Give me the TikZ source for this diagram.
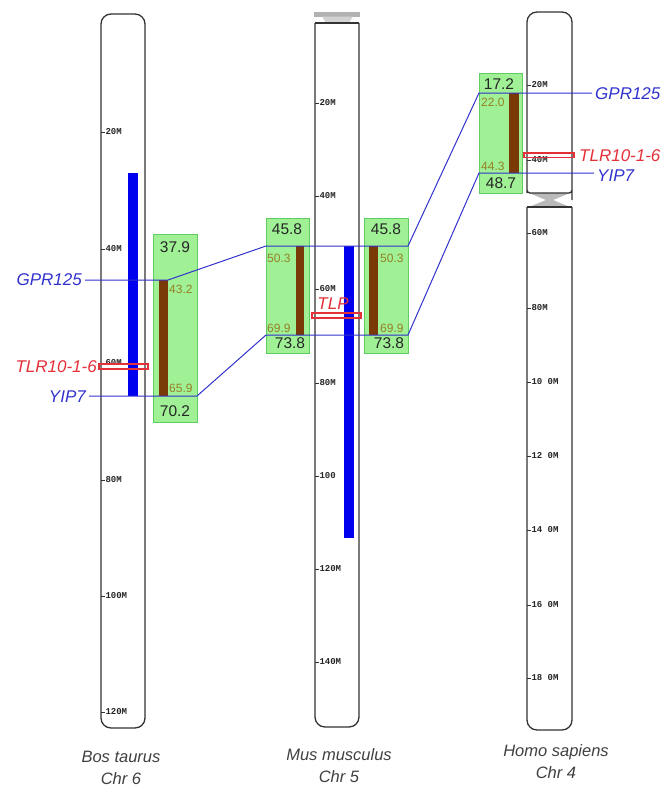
\documentclass[tikz,border=0pt]{standalone}
\usepackage{fontspec}
\setmainfont{Liberation Sans}
\setmonofont{Liberation Mono}
\usetikzlibrary{positioning}
\definecolor{synblue}{RGB}{50,50,205}
\definecolor{barblue}{RGB}{0,0,238}
\definecolor{genered}{RGB}{228,48,56}
\definecolor{boxgreen}{RGB}{160,240,150}
\definecolor{boxedge}{RGB}{95,205,95}
\definecolor{bandbrown}{RGB}{122,58,8}
\definecolor{posolive}{RGB}{150,128,36}

\begin{document}
\begin{tikzpicture}[
    x=1pt, y=-1pt,
    chrom/.style={draw=black!80, line width=1.3pt},
    tickmark/.style={draw=black!80, line width=1pt},
    ticklabel/.style={anchor=west, inner sep=0pt,
                      font=\fontsize{9}{9}\ttfamily\bfseries, text=black!85},
    synbox/.style={draw=boxedge, fill=boxgreen, line width=1pt},
    bignum/.style={inner sep=0pt, font=\fontsize{15.5}{16}\selectfont,
                   text=black!85},
    posnum/.style={anchor=west, inner sep=0pt,
                   font=\fontsize{12}{12}\selectfont, text=posolive},
    gene/.style={inner xsep=3pt, inner ysep=0pt,
                 font=\fontsize{17}{17}\selectfont\itshape},
    syn/.style={draw=synblue, line width=1pt},
    locus/.style={draw=genered, line width=1.2pt},
    species/.style={align=center, text=black!75,
                    font=\fontsize{16.5}{22}\selectfont\itshape}
  ]
  \useasboundingbox (0,0) rectangle (664,788);

  % Bos taurus Chr 6
  \draw[chrom, fill=white, rounded corners=10pt] (101,14) rectangle (145,728);
  \foreach \m/\y in {20M/132, 40M/249, 60M/363, 80M/480, 100M/596, 120M/712}
    \draw[tickmark] (101,\y) -- (105,\y) node[ticklabel] (bt\y) {\m};
  \fill[barblue] (128,173) rectangle (138,396);
  \node[synbox, anchor=north west, minimum width=44pt, minimum height=188pt,
        inner sep=0pt] (bosbox) at (153,234) {};
  \fill[bandbrown] (159,280) rectangle (168,396);
  \node[bignum] (bos1) at (175,247) {37.9};
  \node[bignum] (bos2) at (175,411) {70.2};
  \node[posnum] (bos3) at (169,289) {43.2};
  \node[posnum] (bos4) at (169,388) {65.9};

  % Mus musculus Chr 5
  \fill[gray!60] (314,12) rectangle (360,16.5);
  \fill[gray!35] (322,16.5) -- (353,16.5) -- (349,23) -- (326,23) -- cycle;
  \draw[chrom, fill=white, rounded corners=10pt]
    (315,23) -- (315,727) -- (359,727) -- (359,23);
  \draw[chrom] (315,23) -- (359,23);
  \foreach \m/\y in {20M/103, 40M/196, 60M/289, 80M/383, 100/476, 120M/569, 140M/662}
    \draw[tickmark] (315,\y) -- (319,\y) node[ticklabel] (mm\y) {\m};
  \fill[barblue] (344,246) rectangle (354,538);
  \node[synbox, anchor=north west, minimum width=43pt, minimum height=135pt,
        inner sep=0pt] (musboxl) at (266,218) {};
  \node[synbox, anchor=north west, minimum width=44pt, minimum height=135pt,
        inner sep=0pt] (musboxr) at (364,218) {};
  \fill[bandbrown] (296,246) rectangle (304,335);
  \fill[bandbrown] (369,246) rectangle (378,335);
  \node[bignum] (mus1) at (287,229) {45.8};
  \node[bignum] (mus2) at (290,343) {73.8};
  \node[bignum] (mus3) at (386,229) {45.8};
  \node[bignum] (mus4) at (389,343) {73.8};
  \node[posnum] (mus5) at (267,258) {50.3};
  \node[posnum] (mus6) at (267,328) {69.9};
  \node[posnum] (mus7) at (380,258) {50.3};
  \node[posnum] (mus8) at (380,328) {69.9};

  % Homo sapiens Chr 4
  \fill[gray!55] (529,193) -- (570,193) -- (553,200) -- (570,207)
    -- (529,207) -- (546,200) -- cycle;
  \draw[chrom, fill=white] (527,190) [rounded corners=10pt] -- (527,12)
    -- (572,12) -- (572,190) [rounded corners=3pt] -- (572,193) -- (527,193) -- cycle;
  \draw[chrom, fill=white, rounded corners=10pt]
    (527,207) -- (527,730) -- (572,730) -- (572,207);
  \draw[chrom] (527,207) -- (572,207);
  \foreach \m/\y in {20M/85, 40M/160, 60M/233, 80M/308, 10 0M/382,
                     12 0M/456, 14 0M/530, 16 0M/605, 18 0M/678}
    \draw[tickmark] (527,\y) -- (531,\y) node[ticklabel] (hs\y) {\m};
  \node[synbox, anchor=north west, minimum width=43pt, minimum height=120pt,
        inner sep=0pt] (hombox) at (479,73) {};
  \fill[bandbrown] (509,93) rectangle (519,173);
  \node[bignum] (hom1) at (499,84) {17.2};
  \node[bignum] (hom2) at (501,183) {48.7};
  \node[posnum] (hom3) at (481,102) {22.0};
  \node[posnum] (hom4) at (481,166) {44.3};

  % genes
  \node[gene, text=synblue, anchor=east] (gprbos) at (85,280) {GPR125};
  \node[gene, text=genered, anchor=east] (tlrbos) at (100,367) {TLR10-1-6};
  \node[gene, text=synblue, anchor=east] (yipbos) at (89,397) {YIP7};
  \node[gene, text=genered] (tlpmus) at (333,304) {TLP};
  \node[gene, text=synblue, anchor=west] (gprhom) at (592,94) {GPR125};
  \node[gene, text=genered, anchor=west] (tlrhom) at (576,156) {TLR10-1-6};
  \node[gene, text=synblue, anchor=west] (yiphom) at (594,176) {YIP7};

  \coordinate (bosa) at (168,280);
  \coordinate (bosb) at (197,396);
  \coordinate (musla) at (266,246);
  \coordinate (musra) at (408,246);
  \coordinate (muslb) at (266,335);
  \coordinate (musrb) at (408,335);
  \coordinate (homa) at (479,93);
  \coordinate (homb) at (479,173);
  \draw[syn] (gprbos.east |- bosa) -- (bosa) -- (musla) -- (musra)
    -- (homa) -- (gprhom.west |- homa);
  \draw[syn] (yipbos.east |- bosb) -- (bosb) -- (muslb) -- (musrb)
    -- (homb) -- (yiphom.west |- homb);

  \draw[locus] (99,364) rectangle (148,369);
  \draw[locus] (312,313) rectangle (361,318);
  \draw[locus] (524,153) rectangle (574,157.5);

  \node[species] (bossp) at (121,768) {Bos taurus\\Chr 6};
  \node[species] (mussp) at (339,766) {Mus musculus\\Chr 5};
  \node[species] (homsp) at (556,762) {Homo sapiens\\Chr 4};
\end{tikzpicture}
\end{document}
